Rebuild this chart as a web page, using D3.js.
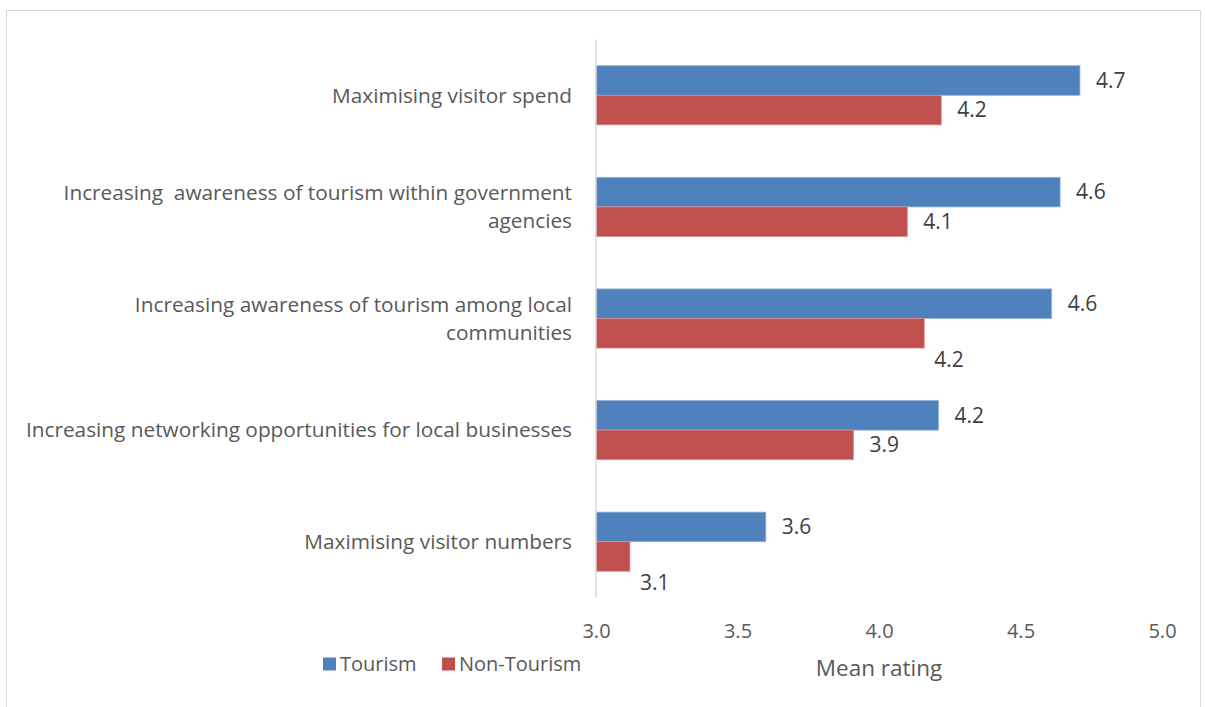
<!DOCTYPE html>
<html>
<head>
<meta charset="utf-8">
<script src="https://cdn.jsdelivr.net/npm/d3@7"></script>
<style>
  html, body { margin: 0; padding: 0; background: #fff; }
  svg { display: block; font-family: "Open Sans", Lato, sans-serif; }
</style>
</head>
<body>
<svg id="chart" width="1205" height="707"></svg>
<script>
// Categories, top to bottom
const categories = [
  "Maximising visitor spend",
  "Increasing  awareness of tourism within government agencies",
  "Increasing awareness of tourism among local communities",
  "Increasing networking opportunities for local businesses",
  "Maximising visitor numbers"
];
// Wrapped category labels (line breaks as displayed)
const categoryLines = [
  ["Maximising visitor spend"],
  ["Increasing  awareness of tourism within government", "agencies"],
  ["Increasing awareness of tourism among local", "communities"],
  ["Increasing networking opportunities for local businesses"],
  ["Maximising visitor numbers"]
];
const seriesNames = ["Tourism", "Non-Tourism"];
const tourism    = [4.71, 4.64, 4.61, 4.21, 3.60];
const nonTourism = [4.22, 4.10, 4.16, 3.91, 3.12];
const xTicks = [3.0, 3.5, 4.0, 4.5, 5.0];

const colors = ["#4F81BD", "#C0504D"];
const textColor = "#595959";
// Categories whose Non-Tourism value label sits below its bar
const labelBelow = new Set([categories[2], categories[4]]);

const svg = d3.select("#chart");

// outer chart frame
svg.append("rect")
  .attr("x", 6.5).attr("y", 10.5)
  .attr("width", 1194).attr("height", 720)
  .attr("fill", "none").attr("stroke", "#d9d9d9").attr("stroke-width", 1);

const plot = { left: 596, right: 1162, top: 39.5, bottom: 597.5 };

const x = d3.scaleLinear().domain([3.0, 5.0]).range([plot.left, plot.right]);
const y = d3.scaleBand().domain(categories)
  .range([plot.top, plot.bottom]).paddingInner(0.47).paddingOuter(0.235);
const ySub = d3.scaleBand().domain(seriesNames).range([0, y.bandwidth()]);

const rows = categories.map((c, i) => ({
  cat: c, lines: categoryLines[i],
  vals: [ { s: seriesNames[0], v: tourism[i] }, { s: seriesNames[1], v: nonTourism[i] } ]
}));

// bars
const g = svg.append("g");
const groups = g.selectAll("g.cat").data(rows).join("g")
  .attr("class", "cat")
  .attr("transform", d => `translate(0,${y(d.cat)})`);

groups.selectAll("rect").data(d => d.vals).join("rect")
  .attr("x", x(3.0))
  .attr("y", d => ySub(d.s))
  .attr("width", d => x(d.v) - x(3.0))
  .attr("height", ySub.bandwidth())
  .attr("fill", (d, i) => colors[i])
  .attr("stroke", (d, i) => i === 0 ? "#8fb0d8" : "#dc8f8d")
  .attr("stroke-width", 0.8);

// value labels
groups.each(function(d) {
  const grp = d3.select(this);
  d.vals.forEach((v, i) => {
    const below = i === 1 && labelBelow.has(d.cat);
    const yy = ySub(v.s) + ySub.bandwidth() / 2 + (below ? 26 : 0);
    grp.append("text")
      .attr("x", x(v.v) + (below ? 10 : 16))
      .attr("y", yy)
      .attr("dy", "0.35em")
      .attr("fill", "#404040")
      .attr("font-size", 21)
      .text(d3.format(".1f")(v.v));
  });
});

// vertical category axis line
svg.append("line")
  .attr("x1", plot.left).attr("x2", plot.left)
  .attr("y1", plot.top).attr("y2", plot.bottom)
  .attr("stroke", "#d9d9d9").attr("stroke-width", 1.5);

// category labels
rows.forEach(d => {
  const cy = y(d.cat) + y.bandwidth() / 2;
  const n = d.lines.length;
  const lh = 28.5;
  const t = svg.append("text")
    .attr("text-anchor", "end")
    .attr("fill", textColor)
    .attr("font-size", 20.8);
  d.lines.forEach((ln, k) => {
    t.append("tspan")
      .attr("x", 572)
      .attr("y", cy + (k - (n - 1) / 2) * lh)
      .attr("dy", "0.35em")
      .style("white-space", "pre")
      .text(ln);
  });
});

// x axis tick labels
const xAxis = d3.axisBottom(x).tickValues(xTicks).tickFormat(d3.format(".1f")).tickSize(0);
const ax = svg.append("g")
  .attr("transform", `translate(0,${plot.bottom + 23})`)
  .call(xAxis);
ax.select(".domain").remove();
ax.selectAll("text")
  .attr("fill", textColor)
  .attr("font-size", 20)
  .attr("font-family", "'Open Sans', Lato, sans-serif");

// axis title
svg.append("text")
  .attr("x", (plot.left + plot.right) / 2)
  .attr("y", 668)
  .attr("dy", "0.35em")
  .attr("text-anchor", "middle")
  .attr("fill", textColor)
  .attr("font-size", 22.5)
  .text("Mean rating");

// legend
const legendX = [323, 442];
seriesNames.forEach((s, i) => {
  const lg = svg.append("g").attr("transform", `translate(${legendX[i]},664)`);
  lg.append("rect").attr("x", 0).attr("y", -6.5).attr("width", 13).attr("height", 13)
    .attr("fill", colors[i]);
  lg.append("text").attr("x", 17).attr("y", 0).attr("dy", "0.35em")
    .attr("fill", textColor).attr("font-size", 20).text(s);
});
</script>
</body>
</html>
